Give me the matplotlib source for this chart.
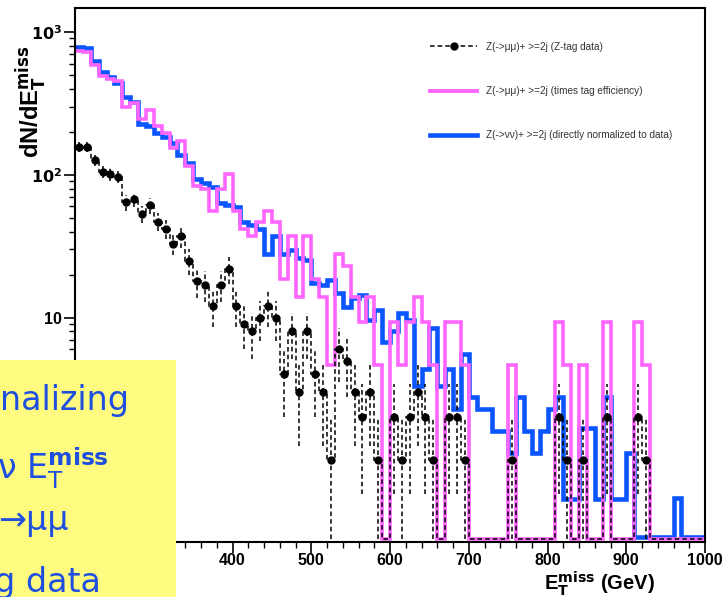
import numpy as np
import matplotlib
matplotlib.use('Agg')
import matplotlib.pyplot as plt
from matplotlib.lines import Line2D
from matplotlib.ticker import LogLocator, NullFormatter

# binning of the MET histograms (GeV)
x_min, x_max, bin_w = 200, 1000, 10
edges = np.arange(x_min, x_max + bin_w, bin_w)
centers = edges[:-1] + bin_w / 2

# Z(->mumu)+>=2j, Z-tag data (counts per bin)
zmumu_data = [157, 156, 127, 105, 101, 97, 64, 68, 53, 61,
              47, 42, 33, 37, 25, 18, 17, 12, 17, 22,
              12, 9, 8, 10, 12, 10, 4, 8, 3, 8,
              4, 3, 1, 6, 5, 3, 2, 3, 1, 0,
              2, 1, 2, 3, 2, 1, 0, 2, 2, 1,
              0, 0, 0, 0, 0, 1, 0, 0, 0, 0,
              0, 2, 1, 0, 1, 0, 0, 2, 0, 0,
              0, 2, 1, 0, 0, 0, 0, 0, 0, 0]

# Z(->mumu)+>=2j times tag efficiency
zmumu_eff = [730, 725, 591, 488, 470, 451, 298, 316, 246, 284,
             219, 195, 153, 172, 116, 84, 79, 56, 79, 102,
             56, 42, 37, 46.5, 56, 46.5, 18.6, 37, 14, 37,
             18.6, 14, 4.65, 28, 23, 14, 9.3, 14, 4.65, 0,
             9.3, 4.65, 9.3, 14, 9.3, 4.65, 0, 9.3, 9.3, 4.65,
             0, 0, 0, 0, 0, 4.65, 0, 0, 0, 0,
             0, 9.3, 4.65, 0, 4.65, 0, 0, 9.3, 0, 0,
             0, 9.3, 4.65, 0, 0, 0, 0, 0, 0, 0]

# Z(->nunu)+>=2j directly normalized to data
znunu_norm = [785, 770, 627, 525, 485, 436, 348, 324, 228, 219,
              195, 185, 166, 137, 120, 93, 87, 82, 63, 61,
              59.7, 47, 44.5, 42, 28, 37, 28, 29.6, 26, 25.5,
              17.4, 17, 18.3, 14.8, 11.9, 13.7, 14.4, 9.6, 11.3, 6.8,
              8, 10.7, 9.6, 3.3, 4.4, 8.4, 3.3, 4.4, 2.3, 5.6,
              2.8, 2.3, 2.3, 1.6, 1.6, 1.13, 2.8, 1.6, 1.13, 1.6,
              2.3, 2.8, 0.54, 0.54, 1.68, 1.68, 0.54, 2.8, 0.54, 0.54,
              1.13, 0.29, 0.29, 0.29, 0.29, 0.29, 0.55, 0.29, 0.29, 0.29]

labels = ['Z(->\u03bc\u03bc)+ >=2j (Z-tag data)',
          'Z(->\u03bc\u03bc)+ >=2j (times tag efficiency)',
          'Z(->\u03bd\u03bd)+ >=2j (directly normalized to data)']

x_ticklabels = ['', '', '400', '500', '600', '700', '800', '900', '1000']
y_ticklabels = ['', '10', r'$\mathbf{10^{2}}$', r'$\mathbf{10^{3}}$']

y_lo, y_hi = 0.27, 1470
floor = 0.28   # empty bins are drawn along the bottom frame

c_blue = '#0a55ff'
c_pink = '#ff66ff'

fig = plt.figure(figsize=(7.26, 5.97), dpi=100)
ax = fig.add_axes([75/726, 55.3/597, 630/726, 533.7/597])

blue = np.array(znunu_norm, float)
pink = np.array(zmumu_eff, float)
data = np.array(zmumu_data, float)

ax.stairs(np.where(blue > 0, blue, floor), edges, baseline=None, color=c_blue, lw=3.3)
ax.stairs(np.where(pink > 0, pink, floor), edges, baseline=None, color=c_pink, lw=2.6)
ax.stairs(np.where(data > 0, data, floor), edges, baseline=None, color='k', lw=1.1,
          linestyle=(0, (3, 2)))

m = data > 0
err = np.sqrt(data[m])
err_lo = np.minimum(err, data[m] - floor)
eb = ax.errorbar(centers[m], data[m], yerr=[err_lo, err], fmt='o', color='k', ms=5,
                 elinewidth=1.1, capsize=0)
eb[2][0].set_linestyle((0, (3, 2)))

ax.set_xlim(x_min, x_max)
ax.set_yscale('log')
ax.set_ylim(y_lo, y_hi)
ax.set_xticks(np.arange(x_min, x_max + 1, 100))
ax.set_xticklabels(x_ticklabels)
ax.set_xticks(np.arange(x_min, x_max + 1, 20), minor=True)
ax.set_yticks([1, 10, 100, 1000])
ax.set_yticklabels(y_ticklabels)
ax.yaxis.set_minor_locator(LogLocator(subs=np.arange(2, 10)))
ax.yaxis.set_minor_formatter(NullFormatter())
ax.tick_params(which='major', length=8, width=1.2, direction='out', pad=1.5)
ax.tick_params(axis='x', which='major', pad=0.3)
ax.tick_params(which='minor', length=4.5, width=1, direction='out')
for lab in ax.get_xticklabels() + ax.get_yticklabels():
    lab.set_fontweight('bold')
    lab.set_fontsize(11.5)
    lab.set_family('Liberation Sans')
for s in ax.spines.values():
    s.set_linewidth(1.5)

fig.text(31/726, 1 - 102/597, r'dN/dE$_{\mathbf{T}}^{\mathbf{miss}}$', rotation=90,
         fontsize=17, fontweight='bold', family='Liberation Sans', ha='center', va='center')
fig.text(655/726, 1 - 590/597, r'E$_{\mathbf{T}}^{\mathbf{miss}}$ (GeV)', fontsize=14.5,
         fontweight='bold', family='Liberation Sans', ha='right', va='baseline')

h_data = Line2D([], [], color='k', ls=(0, (3, 2)), lw=1.1, marker='o', ms=5)
h_eff = Line2D([], [], color=c_pink, lw=2.8)
h_norm = Line2D([], [], color=c_blue, lw=3.3)
leg = ax.legend([h_data, h_eff, h_norm], labels, loc='upper left',
                bbox_to_anchor=(430/726, 1 - 41.5/597), bbox_transform=fig.transFigure,
                frameon=False, prop={'family': 'Liberation Sans', 'size': 7.2},
                handlelength=4.7, handletextpad=0.9, labelspacing=3.45,
                borderpad=0, borderaxespad=0)
for t in leg.get_texts():
    t.set_color('#333333')

# yellow slide note covering the lower left corner
box = fig.add_axes([0, 0, 176/726, 237/597])
box.set_facecolor('#fffb80')
box.set_xticks([])
box.set_yticks([])
for s in box.spines.values():
    s.set_visible(False)
box.set_xlim(0, 176)
box.set_ylim(597, 360)
note_kw = dict(color='#1f4fe0', fontsize=24, family='DejaVu Sans', va='baseline', clip_on=True)
box.text(0, 410, 'nalizing', **note_kw)
box.text(-3, 478, '\u03bd ' + r'$\mathrm{E}_{\mathrm{T}}^{\mathbf{miss}}$', **note_kw)
box.text(-2, 530, '\u2192\u03bc\u03bc', **note_kw)
box.text(-6, 592, 'g data', **note_kw)

fig.savefig('out.png', dpi=100)
